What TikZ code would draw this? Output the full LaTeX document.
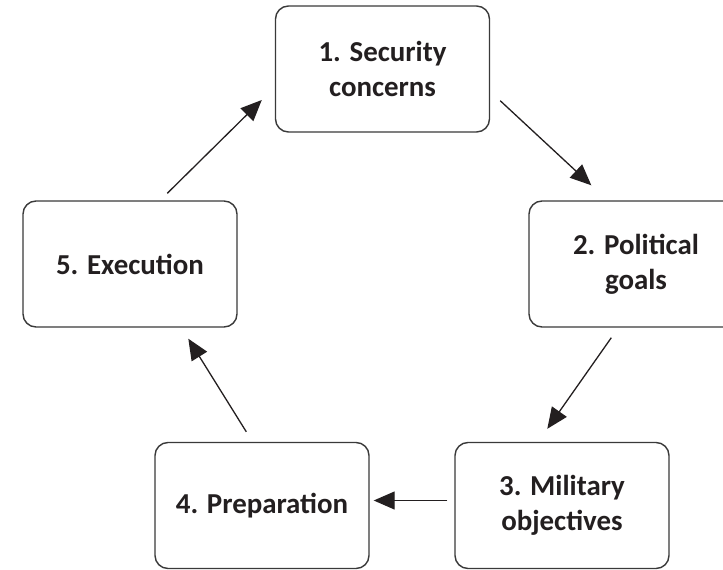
\documentclass[tikz,border=0pt]{standalone}
\usepackage{fontspec}
\setmainfont{Carlito}
\usetikzlibrary{arrows.meta,calc}
\definecolor{txt}{HTML}{231F20}
\definecolor{edge}{HTML}{3A3A3A}
\tikzset{
  stagebox/.style={draw=edge, line width=1.4bp, rounded corners=13bp, fill=white,
    minimum width=214bp, minimum height=126bp, inner sep=0pt, align=center,
    text=txt, font=\fontsize{29}{35}\selectfont\bfseries},
  arr/.style={draw=txt, line width=1.3bp, -{Triangle[length=21bp,width=18bp]}}
}
\begin{document}
\begin{tikzpicture}[x=1bp,y=-1bp]
\useasboundingbox (0,0) rectangle (723,570);
\begin{scope}
\clip (0,0) rectangle (723,570);
\node[stagebox] (n1) at (382.5,69) {1. Security\\concerns};
\node[stagebox] (n2) at (636,264) {2. Political\\goals};
\node[stagebox] (n3) at (562,505.5) {3. Military\\objectives};
\node[stagebox] (n4) at (262,505.5) {4. Preparation};
\node[stagebox] (n5) at (130,264) {5. Execution};
\end{scope}
\draw[arr] ($(n1.south east)+(10,-32)$) -- ($(n2.north west)+(63,-15)$);
\draw[arr] ($(n2.south west)+(83,10)$) -- ($(n3.north west)+(93,-13)$);
\draw[arr] ($(n3.west)+(-7,-5)$) -- ($(n4.east)+(4,-5)$);
\draw[arr] ($(n4.north west)+(92,-10)$) -- ($(n5.south west)+(166,11)$);
\draw[arr] ($(n5.north west)+(145,-7)$) -- ($(n1.west)+(-13,31)$);
\end{tikzpicture}
\end{document}
